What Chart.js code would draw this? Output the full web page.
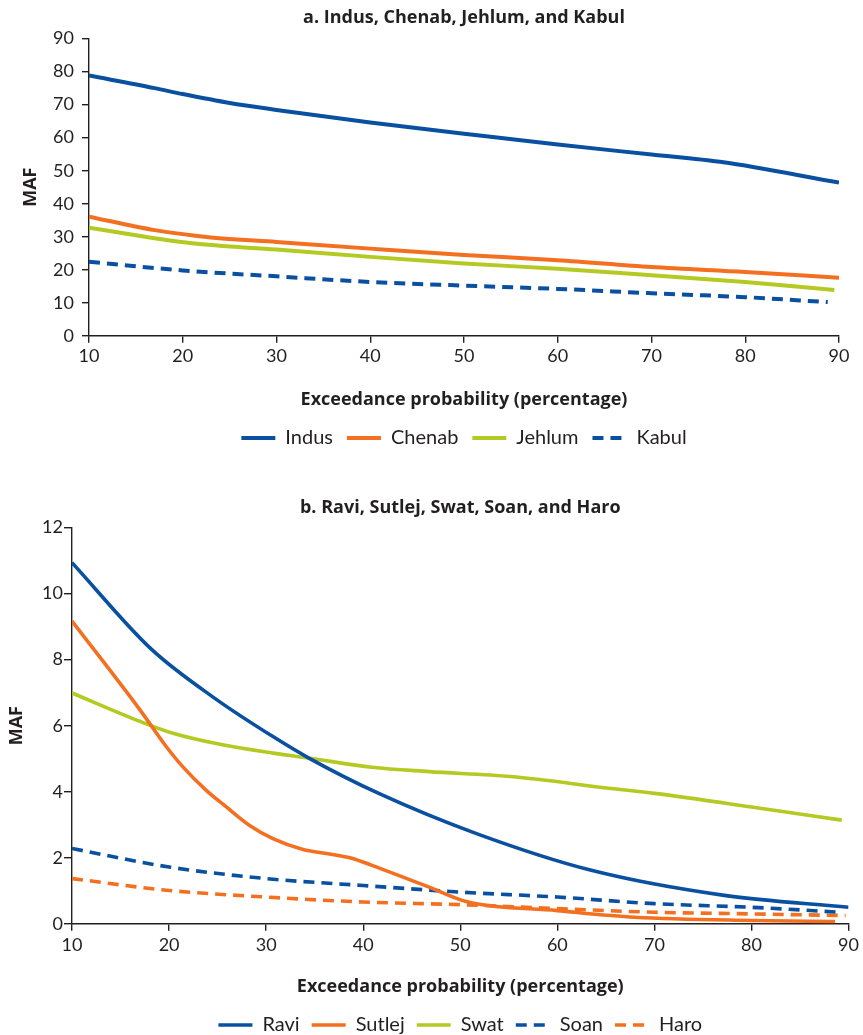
<!DOCTYPE html>
<html>
<head>
<meta charset="utf-8">
<script src="https://cdn.jsdelivr.net/npm/chart.js@4.4.1/dist/chart.umd.min.js"></script>
<style>
    html, body { margin: 0; padding: 0; background: #fff; overflow: hidden; }
    .panel { position: absolute; left: 0; }
    #panelA { top: 0; }
    #panelB { top: 470px; }
</style>
</head>
<body>
<div class="panel" id="panelA"><canvas id="chartA" width="863" height="470"></canvas></div>
<div class="panel" id="panelB"><canvas id="chartB" width="863" height="590"></canvas></div>
<script>
// Panel a: Indus, Chenab, Jehlum, Kabul (MAF vs exceedance probability %)
const indusProb  = [10, 17, 20, 25, 30, 40, 50, 60, 70, 77.5, 90];
const indusMAF   = [78.8, 75.0, 73.2, 70.5, 68.4, 64.6, 61.2, 57.9, 54.9, 52.6, 46.4];
const chenabProb = [10, 17, 23, 30, 40, 50, 60, 70, 80, 90];
const chenabMAF  = [36.1, 32.0, 29.8, 28.4, 26.4, 24.5, 22.9, 20.8, 19.3, 17.6];
const jehlumProb = [10, 21, 30, 40, 50, 60, 70, 80, 89.5];
const jehlumMAF  = [32.7, 28.0, 26.1, 23.9, 21.9, 20.3, 18.3, 16.3, 13.9];
const kabulProb  = [10, 20, 30, 40, 50, 60, 70, 80, 88.8];
const kabulMAF   = [22.4, 19.8, 18.0, 16.3, 15.2, 14.2, 12.9, 11.7, 10.2];

// Panel b: Ravi, Sutlej, Swat, Soan, Haro
const raviProb   = [10, 18.2, 24.9, 30.7, 34.4, 41.6, 51.6, 63.5, 77.2, 90];
const raviMAF    = [10.94, 8.31, 6.79, 5.67, 5.02, 3.95, 2.74, 1.62, 0.86, 0.5];
const sutlejProb = [10, 17, 19.7, 21.4, 23.8, 25.9, 28.3, 30.7, 33.8, 36.2, 38.9, 40.9, 46.8, 50.8, 60, 68, 80, 88.6];
const sutlejMAF  = [9.17, 6.48, 5.37, 4.76, 4.05, 3.54, 2.98, 2.58, 2.25, 2.13, 1.98, 1.77, 1.11, 0.66, 0.40, 0.20, 0.10, 0.07];
const swatProb   = [10, 17, 20.4, 25.5, 30.7, 34.4, 40.9, 46.8, 55.2, 65.5, 70, 80, 89.3];
const swatMAF    = [6.99, 6.13, 5.77, 5.42, 5.17, 5.02, 4.74, 4.61, 4.46, 4.10, 3.95, 3.54, 3.14];
const soanProb   = [10, 20, 30, 40, 50, 60, 70, 80, 89.1];
const soanMAF    = [2.28, 1.72, 1.37, 1.16, 0.96, 0.81, 0.61, 0.50, 0.35];
const haroProb   = [10, 20, 30, 40, 50, 60, 70, 80, 89.7];
const haroMAF    = [1.37, 1.01, 0.81, 0.66, 0.58, 0.46, 0.35, 0.30, 0.25];

const xTicks = [10, 20, 30, 40, 50, 60, 70, 80, 90];

const AZUL = '#0a50a1';
const NARANJA = '#f37021';
const VERDE = '#b5c923';
const TEXTO = '#231f20';

Chart.defaults.font.family = 'Lato';
Chart.defaults.color = TEXTO;

function puntos(xs, ys) {
    return xs.map((x, i) => ({ x: x, y: ys[i] }));
}

function serie(label, xs, ys, color, dashed, width) {
    return {
        label: label,
        data: puntos(xs, ys),
        borderColor: color,
        backgroundColor: color,
        borderWidth: width,
        borderDash: dashed ? [11, 7] : [],
        borderCapStyle: 'butt',
        pointRadius: 0,
        cubicInterpolationMode: 'monotone',
        fill: false
    };
}

// la leyenda toma el estilo de la línea (con guiones) y no del punto
function etiquetasLeyenda(chart) {
    return chart.data.datasets.map((ds, i) => ({
        text: ds.label,
        datasetIndex: i,
        hidden: false,
        fillStyle: ds.borderColor,
        strokeStyle: ds.borderColor,
        lineWidth: ds.borderWidth,
        lineDash: ds.borderDash,
        lineCap: 'butt',
        pointStyle: 'line',
        fontColor: TEXTO
    }));
}

/**
 * Opciones comunes; cada panel ajusta márgenes y escala Y
 */
function opciones(cfg) {
    return {
        responsive: false,
        animation: false,
        layout: { padding: { top: 0, left: 0, right: cfg.padRight, bottom: cfg.padBottom } },
        plugins: {
            title: {
                display: true,
                text: cfg.titulo,
                fullSize: false,
                color: TEXTO,
                font: { family: 'Open Sans', size: 18, weight: 'bold' },
                padding: { top: cfg.titleTop, bottom: cfg.titleBottom }
            },
            legend: {
                position: 'bottom',
                fullSize: false,
                labels: {
                    usePointStyle: true,
                    pointStyle: 'line',
                    pointStyleWidth: 34,
                    padding: cfg.legendPad,
                    color: TEXTO,
                    font: { size: 20 },
                    generateLabels: etiquetasLeyenda
                }
            },
            tooltip: { enabled: false }
        },
        scales: {
            x: {
                type: 'linear',
                min: 10,
                max: 90,
                afterBuildTicks: (s) => { s.ticks = xTicks.map(v => ({ value: v })); },
                border: { display: true, color: TEXTO, width: 1.4 },
                grid: { display: true, drawOnChartArea: false, drawTicks: true, tickLength: 7, color: TEXTO, lineWidth: 1.4 },
                ticks: { padding: cfg.xTickPad, font: { size: 18 }, color: TEXTO },
                title: {
                    display: true,
                    text: 'Exceedance probability (percentage)',
                    color: TEXTO,
                    font: { family: 'Open Sans', size: 18, weight: 'bold' },
                    padding: { top: cfg.xTitleTop, bottom: cfg.xTitleBottom }
                }
            },
            y: {
                min: 0,
                max: cfg.yMax,
                afterFit: (s) => { s.width = cfg.yWidth; },
                border: { display: true, color: TEXTO, width: 1.4 },
                grid: { display: true, drawOnChartArea: false, drawTicks: true, tickLength: cfg.yTickLen, color: TEXTO, lineWidth: 1.4 },
                ticks: { stepSize: cfg.yStep, padding: cfg.yTickPad, font: { size: 18 }, color: TEXTO },
                title: {
                    display: true,
                    text: 'MAF',
                    color: TEXTO,
                    font: { family: 'Open Sans', size: 18, weight: 'bold' },
                    padding: { top: cfg.yTitleTop, bottom: 0 }
                }
            }
        }
    };
}

new Chart(document.getElementById('chartA').getContext('2d'), {
    type: 'line',
    data: {
        datasets: [
            serie('Indus', indusProb, indusMAF, AZUL, false, 4),
            serie('Chenab', chenabProb, chenabMAF, NARANJA, false, 4),
            serie('Jehlum', jehlumProb, jehlumMAF, VERDE, false, 4),
            serie('Kabul', kabulProb, kabulMAF, AZUL, true, 4)
        ]
    },
    options: opciones({
        titulo: 'a. Indus, Chenab, Jehlum, and Kabul',
        padRight: 24, padBottom: 12,
        titleTop: 7, titleBottom: 10,
        legendPad: 14,
        xTickPad: 3, xTitleTop: 19, xTitleBottom: 3,
        yMax: 90, yStep: 10, yWidth: 89, yTickLen: 7, yTickPad: 8, yTitleTop: 20
    })
});

new Chart(document.getElementById('chartB').getContext('2d'), {
    type: 'line',
    data: {
        datasets: [
            serie('Ravi', raviProb, raviMAF, AZUL, false, 3.6),
            serie('Sutlej', sutlejProb, sutlejMAF, NARANJA, false, 3.6),
            serie('Swat', swatProb, swatMAF, VERDE, false, 3.6),
            serie('Soan', soanProb, soanMAF, AZUL, true, 3.6),
            serie('Haro', haroProb, haroMAF, NARANJA, true, 3.6)
        ]
    },
    options: opciones({
        titulo: 'b. Ravi, Sutlej, Swat, Soan, and Haro',
        padRight: 11, padBottom: 15,
        titleTop: 27, titleBottom: 9,
        legendPad: 12,
        xTickPad: 4, xTitleTop: 16, xTitleBottom: 5,
        yMax: 12, yStep: 2, yWidth: 72, yTickLen: 8, yTickPad: 1, yTitleTop: 6
    })
});
</script>
</body>
</html>
